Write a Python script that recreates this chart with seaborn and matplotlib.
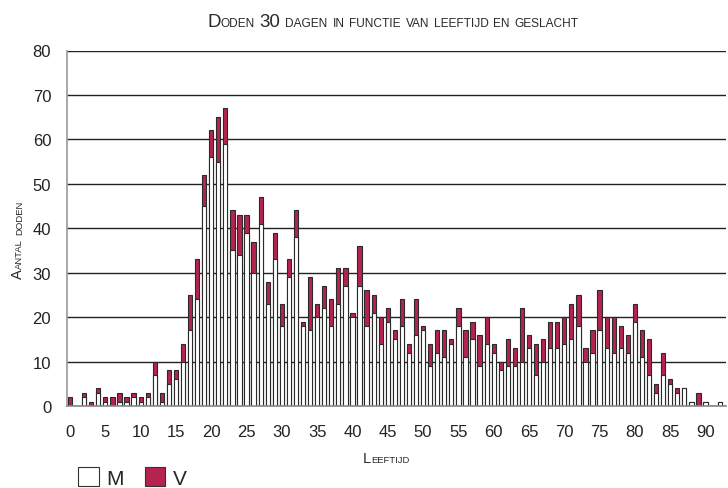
"""
Doden 30 dagen in functie van leeftijd en geslacht - stacked bars per age.
"""

import matplotlib
matplotlib.use("Agg")
import matplotlib.pyplot as plt
from matplotlib import font_manager
from matplotlib.patches import Patch
import numpy as np
import seaborn as sns

# Data (ages 0..93)
ages = list(range(0, 94))
male = [0, 0, 2, 0, 3, 1, 0, 1, 1, 2, 1, 2, 7, 1, 5, 6, 10, 17, 24, 45,
        56, 55, 59, 35, 34, 39, 30, 41, 23, 33, 18, 29, 38, 18, 17, 20, 22, 18, 23, 27,
        20, 27, 18, 21, 14, 19, 15, 18, 12, 16, 17, 9, 12, 11, 14, 18, 11, 15, 9, 14,
        12, 8, 9, 9, 10, 13, 7, 10, 13, 13, 14, 15, 18, 10, 12, 17, 13, 12, 13, 12,
        19, 11, 7, 3, 7, 5, 3, 4, 1, 0, 1, 0, 1, 0]
female = [2, 0, 1, 1, 1, 1, 2, 2, 1, 1, 1, 1, 3, 2, 3, 2, 4, 8, 9, 7,
          6, 10, 8, 9, 9, 4, 7, 6, 5, 6, 5, 4, 6, 1, 12, 3, 5, 6, 8, 4,
          1, 9, 8, 4, 6, 3, 2, 6, 2, 8, 1, 5, 5, 6, 1, 4, 6, 4, 7, 6,
          2, 2, 6, 4, 12, 3, 7, 5, 6, 6, 6, 8, 7, 3, 5, 9, 7, 8, 5, 4,
          4, 6, 8, 2, 5, 1, 1, 0, 0, 3, 0, 0, 0, 0]
total = [m + v for m, v in zip(male, female)]

title = "Doden 30 dagen in functie van leeftijd en geslacht"
xlabel = "Leeftijd"
ylabel = "Aantal doden"
legend_labels = ["M", "V"]

RED = "#B5234F"
EDGE = "#2a2a2a"
W, H = 728, 489

sns.set_style("white")
installed = {f.name for f in font_manager.fontManager.ttflist}
narrow = "Liberation Sans Narrow" if "Liberation Sans Narrow" in installed else "Liberation Sans"
plt.rcParams["font.family"] = [narrow, "DejaVu Sans"]

fig = plt.figure(figsize=(W / 100, H / 100), dpi=100)
ax = fig.add_axes([66.5 / W, 1 - 407 / H, (726 - 66.5) / W, (407 - 51.5) / H])
ax.set_axisbelow(True)

# Stacked bars: full height in red, male part in white on top of it
sns.barplot(x=ages, y=total, color=RED, saturation=1, width=0.6,
            edgecolor=EDGE, linewidth=0.8, errorbar=None, ax=ax)
sns.barplot(x=ages, y=male, color="white", saturation=1, width=0.6,
            edgecolor=EDGE, linewidth=0.8, errorbar=None, ax=ax)

ax.set_ylim(0, 80)
ax.set_xlim(-0.4, 92.9)
ax.set_yticks(range(0, 81, 10))
ax.yaxis.grid(True, color="#222222", linewidth=1)
ax.set_xticks(range(0, 91, 5))
ax.set_xticklabels([str(a) for a in range(0, 91, 5)])
ax.set_xticks(np.arange(-0.5, 93, 1), minor=True)
ax.tick_params(axis="x", which="major", length=0, pad=13, labelsize=12, colors="#222222")
ax.tick_params(axis="x", which="minor", length=5, width=0.8, color="#555555", direction="out")
ax.tick_params(axis="y", length=5, width=1, color="#333333", pad=6, labelsize=12,
               labelcolor="#222222", direction="out")
ax.set_xlabel("")
ax.set_ylabel("")
for side in ["top", "right"]:
    ax.spines[side].set_visible(False)
ax.spines["left"].set_color("#999999")
ax.spines["left"].set_linewidth(1.2)
ax.spines["bottom"].set_color("#888888")
ax.spines["bottom"].set_linewidth(1.2)


def small_caps(text, x, y, big, small, rotation=0, family="Liberation Sans"):
    """Draw text in small caps: uppercase letters and digits big, the rest small."""
    parts = []
    for word in text.split(" "):
        segs = []
        for ch in word:
            size = big if (ch.isupper() or ch.isdigit()) else small
            if segs and segs[-1][1] == size:
                segs[-1][0] += ch.upper()
            else:
                segs.append([ch.upper(), size])
        parts.append(segs)
    renderer = fig.canvas.get_renderer()
    gap = 0.4 * small * 100 / 72
    items = []
    for i, segs in enumerate(parts):
        for s, size in segs:
            t = fig.text(0, 0, s, fontsize=size, family=family)
            items.append((s, size, t.get_window_extent(renderer).width))
            t.remove()
        if i < len(parts) - 1:
            items.append((None, None, gap))
    pos = -sum(w for _, _, w in items) / 2
    for s, size, w in items:
        if s is not None:
            if rotation == 0:
                fx, fy = (x + pos) / W, 1 - y / H
            else:
                fx, fy = x / W, 1 - (y - pos) / H
            fig.text(fx, fy, s, fontsize=size, family=family, color="#2a2a2a",
                     rotation=rotation, rotation_mode="anchor", ha="left", va="baseline")
        pos += w


small_caps(title, 393, 27, 13.5, 8.6)
small_caps(xlabel, 386, 463, 10.5, 6.8)
small_caps(ylabel, 22, 240, 10.5, 6.8, rotation=90)

handles = [Patch(facecolor="white", edgecolor="#333333", linewidth=0.8),
           Patch(facecolor=RED, edgecolor="#333333", linewidth=0.8)]
fig.legend(handles, legend_labels, loc="lower left", bbox_to_anchor=(76 / W, -0.004),
           ncol=2, frameon=False, fontsize=15, handlelength=1.0, handleheight=1.0,
           handletextpad=0.35, columnspacing=1.0, borderpad=0.1, borderaxespad=0.0)

fig.savefig("out.png", dpi=100)
